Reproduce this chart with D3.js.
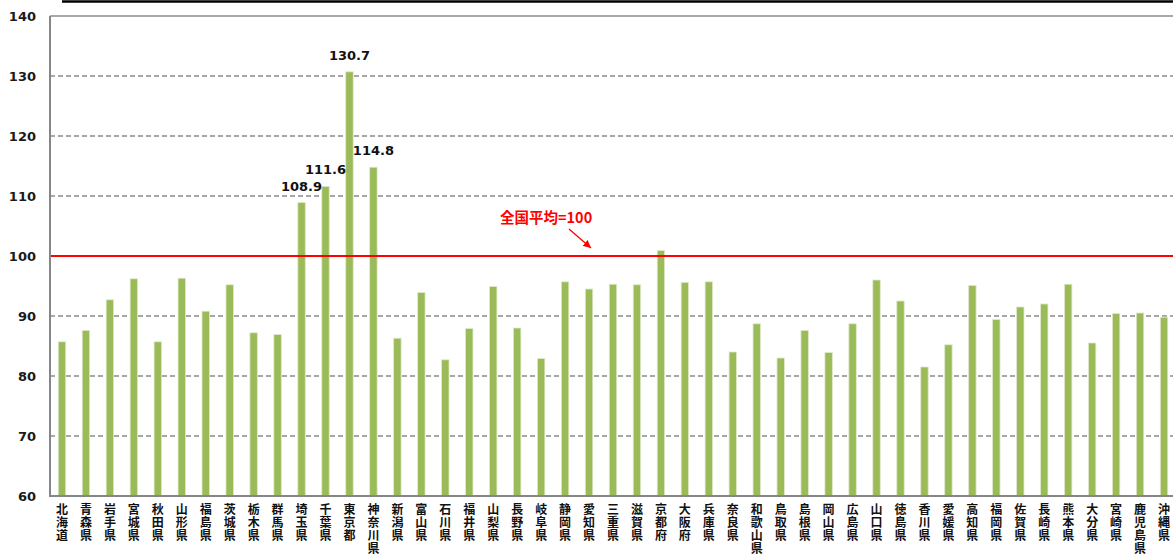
<!DOCTYPE html>
<html>
<head>
<meta charset="utf-8">
<script src="https://cdn.jsdelivr.net/npm/d3@7"></script>
<style>
  body { margin: 0; background: #fff; }
  svg { display: block; }
  .tick text { font-family: "DejaVu Sans", Verdana, sans-serif; font-weight: bold; font-size: 13px; fill: #1a1a1a; }
</style>
</head>
<body>
<div id="chart"></div>
<script>
const width = 1173;
const height = 557;

// 都道府県
const prefectures = [
  "北海道", "青森県", "岩手県", "宮城県", "秋田県", "山形県", "福島県", "茨城県",
  "栃木県", "群馬県", "埼玉県", "千葉県", "東京都", "神奈川県", "新潟県", "富山県",
  "石川県", "福井県", "山梨県", "長野県", "岐阜県", "静岡県", "愛知県", "三重県",
  "滋賀県", "京都府", "大阪府", "兵庫県", "奈良県", "和歌山県", "鳥取県", "島根県",
  "岡山県", "広島県", "山口県", "徳島県", "香川県", "愛媛県", "高知県", "福岡県",
  "佐賀県", "長崎県", "熊本県", "大分県", "宮崎県", "鹿児島県", "沖縄県"
];

// 指数（全国平均=100）
const values = [
  85.7, 87.6, 92.7, 96.2, 85.7, 96.3, 90.8, 95.2,
  87.2, 86.9, 108.9, 111.6, 130.7, 114.8, 86.3, 93.9,
  82.7, 87.9, 94.9, 88.0, 82.9, 95.7, 94.5, 95.3,
  95.2, 100.9, 95.6, 95.7, 84.0, 88.7, 83.0, 87.6,
  83.9, 88.7, 96.0, 92.5, 81.5, 85.2, 95.1, 89.4,
  91.5, 92.0, 95.3, 85.5, 90.4, 90.5, 89.8
];

// ラベルを付ける県
const labeled = ["埼玉県", "千葉県", "東京都", "神奈川県"];

const yTicks = [60, 70, 80, 90, 100, 110, 120, 130, 140];
const average = 100;
const averageLabel = "全国平均=100";

const data = prefectures.map((name, i) => ({ name, value: values[i] }));

const svg = d3.select("#chart")
  .append("svg")
  .attr("width", width)
  .attr("height", height);

const plotLeft = 50, plotRight = 1176, plotTop = 16, plotBottom = 496;

const x = d3.scaleBand()
  .domain(prefectures)
  .range([plotLeft, plotRight])
  .paddingInner(0.69)
  .paddingOuter(0.345);

const y = d3.scaleLinear()
  .domain([60, 140])
  .range([plotBottom, plotTop]);

// 上の黒い線
svg.append("line")
  .attr("x1", 62).attr("x2", width)
  .attr("y1", 1.5).attr("y2", 1.5)
  .attr("stroke", "#000")
  .attr("stroke-width", 2.5);

// グリッド線
svg.append("g")
  .selectAll("line")
  .data(yTicks.filter(d => d > 60 && d < 140))
  .enter()
  .append("line")
  .attr("x1", plotLeft).attr("x2", width)
  .attr("y1", d => y(d)).attr("y2", d => y(d))
  .attr("stroke", "#8c8c8c")
  .attr("stroke-width", 1.3)
  .attr("stroke-dasharray", "5,3");

// 枠線（上）
svg.append("line")
  .attr("x1", plotLeft).attr("x2", width)
  .attr("y1", y(140)).attr("y2", y(140))
  .attr("stroke", "#8c8c8c")
  .attr("stroke-width", 1.5);

// 棒
svg.append("g")
  .selectAll("rect")
  .data(data)
  .enter()
  .append("rect")
  .attr("x", d => x(d.name))
  .attr("y", d => y(d.value))
  .attr("width", x.bandwidth())
  .attr("height", d => y(60) - y(d.value))
  .attr("fill", "#9bbb59")
  .attr("stroke", "#dfe9cb")
  .attr("stroke-width", 0.8);

// 全国平均の線
svg.append("line")
  .attr("x1", plotLeft).attr("x2", width)
  .attr("y1", y(average)).attr("y2", y(average))
  .attr("stroke", "#ff0000")
  .attr("stroke-width", 2);

// Y軸
const yAxis = svg.append("g")
  .attr("transform", `translate(${plotLeft},0)`)
  .call(d3.axisLeft(y).tickValues(yTicks).tickSize(0).tickPadding(14));
yAxis.select(".domain").remove();

// 軸線
svg.append("line")
  .attr("x1", plotLeft).attr("x2", plotLeft)
  .attr("y1", plotTop).attr("y2", plotBottom)
  .attr("stroke", "#868686")
  .attr("stroke-width", 2);
svg.append("line")
  .attr("x1", plotLeft - 1).attr("x2", width)
  .attr("y1", plotBottom).attr("y2", plotBottom)
  .attr("stroke", "#868686")
  .attr("stroke-width", 2);

// 県名（縦書き）
svg.append("g")
  .selectAll("text")
  .data(prefectures)
  .enter()
  .append("text")
  .attr("x", d => x(d) + x.bandwidth() / 2)
  .attr("y", 503)
  .style("writing-mode", "vertical-rl")
  .style("letter-spacing", "1px")
  .attr("font-family", "'Noto Sans CJK JP', sans-serif")
  .attr("font-weight", "bold")
  .attr("font-size", 12)
  .attr("fill", "#111")
  .text(d => d);

// 値ラベル
svg.append("g")
  .selectAll("text")
  .data(data.filter(d => labeled.includes(d.name)))
  .enter()
  .append("text")
  .attr("x", d => x(d.name) + x.bandwidth() / 2)
  .attr("y", d => y(d.value) - 12)
  .attr("text-anchor", "middle")
  .attr("font-family", "'DejaVu Sans', Verdana, sans-serif")
  .attr("font-weight", "bold")
  .attr("font-size", 13)
  .attr("fill", "#111")
  .text(d => d.value.toFixed(1));

// 全国平均の注記と矢印
svg.append("defs")
  .append("marker")
  .attr("id", "arrow")
  .attr("viewBox", "0 -5 10 10")
  .attr("refX", 10)
  .attr("refY", 0)
  .attr("markerWidth", 6)
  .attr("markerHeight", 6)
  .attr("orient", "auto")
  .append("path")
  .attr("d", "M0,-5L10,0L0,5")
  .attr("fill", "#ff0000");

svg.append("text")
  .attr("x", 500)
  .attr("y", 223)
  .attr("font-family", "'Noto Sans CJK JP', sans-serif")
  .attr("font-weight", "bold")
  .attr("font-size", 14.5)
  .attr("fill", "#ff0000")
  .text(averageLabel);

svg.append("line")
  .attr("x1", 569).attr("y1", 229)
  .attr("x2", 591).attr("y2", 248)
  .attr("stroke", "#ff0000")
  .attr("stroke-width", 1.3)
  .attr("marker-end", "url(#arrow)");
</script>
</body>
</html>
